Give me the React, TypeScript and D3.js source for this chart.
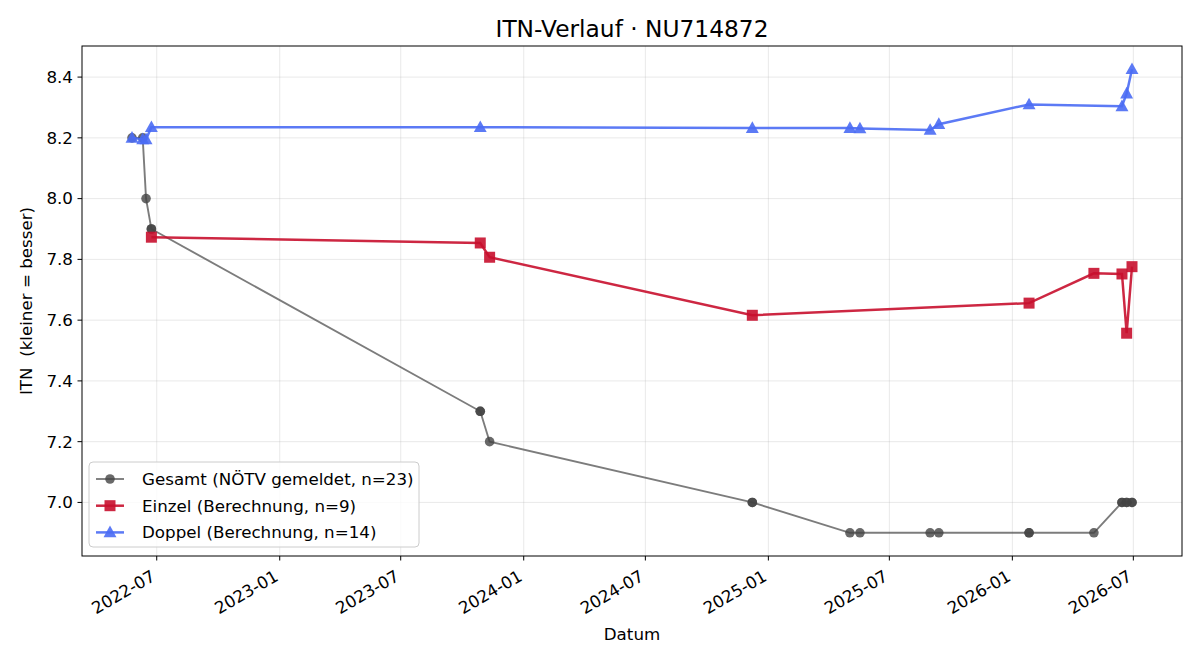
import React from "react";
import * as d3 from "d3";

const gesamtDates = ["2022-05-25","2022-06-10","2022-06-15","2022-06-23","2022-06-23","2023-10-28","2023-10-28","2023-11-11","2024-12-08","2024-12-08","2025-05-03","2025-05-18","2025-08-31","2025-09-13","2026-01-26","2026-01-26","2026-05-03","2026-06-14","2026-06-14","2026-06-21","2026-06-21","2026-06-29","2026-06-29"];
const gesamtValues = [8.2,8.2,8.0,7.9,7.9,7.3,7.3,7.2,7.0,7.0,6.9,6.9,6.9,6.9,6.9,6.9,6.9,7.0,7.0,7.0,7.0,7.0,7.0];

const einzelDates = ["2022-06-23","2023-10-28","2023-11-11","2024-12-08","2026-01-26","2026-05-03","2026-06-14","2026-06-21","2026-06-29"];
const einzelValues = [7.873,7.854,7.807,7.616,7.656,7.754,7.752,7.557,7.776];

const doppelDates = ["2022-05-25","2022-06-10","2022-06-15","2022-06-23","2023-10-28","2024-12-08","2025-05-03","2025-05-18","2025-08-31","2025-09-13","2026-01-26","2026-06-14","2026-06-21","2026-06-29"];
const doppelValues = [8.2,8.195,8.195,8.235,8.235,8.232,8.232,8.231,8.226,8.245,8.31,8.304,8.346,8.426];

const xTicks = ["2022-07","2023-01","2023-07","2024-01","2024-07","2025-01","2025-07","2026-01","2026-07"];
const yTicks = [7.0,7.2,7.4,7.6,7.8,8.0,8.2,8.4];

const legendLabels = ["Gesamt (NÖTV gemeldet, n=23)","Einzel (Berechnung, n=9)","Doppel (Berechnung, n=14)"];

const W = 1200, H = 660;
const L = 82, R = 1182, T = 46, B = 556;
const FONT = "DejaVu Sans, sans-serif";
const FS = 16.7;
const GREY = "#444444", RED = "#c8102e", BLUE = "#4a6cf4";

const parse = d3.timeParse("%Y-%m-%d");
const parseM = d3.timeParse("%Y-%m");

type P = { d: Date; v: number };
const mk = (ds: string[], vs: number[]): P[] => ds.map((s, i) => ({ d: parse(s) as Date, v: vs[i] }));

export default function App() {
  const g = mk(gesamtDates, gesamtValues);
  const e = mk(einzelDates, einzelValues);
  const dp = mk(doppelDates, doppelValues);
  const all = [...g, ...e, ...dp];
  const [dmin, dmax] = d3.extent(all, (p) => p.d.getTime()) as [number, number];
  const dpad = (dmax - dmin) * 0.05;
  const [vmin, vmax] = d3.extent(all, (p) => p.v) as [number, number];
  const vpad = (vmax - vmin) * 0.05;
  const x = d3.scaleTime().domain([new Date(dmin - dpad), new Date(dmax + dpad)]).range([L, R]);
  const y = d3.scaleLinear().domain([vmin - vpad, vmax + vpad]).range([B, T]);
  const line = d3.line<P>().x((p) => x(p.d)).y((p) => y(p.v));

  const tri = (cx: number, cy: number, s: number) =>
    `M${cx},${cy - s}L${cx + s * 0.95},${cy + s * 0.72}L${cx - s * 0.95},${cy + s * 0.72}Z`;

  const marker = (kind: number, cx: number, cy: number, key: any) => {
    if (kind === 0) return <circle key={key} cx={cx} cy={cy} r={4.8} fill={GREY} fillOpacity={0.8} />;
    if (kind === 1) return <rect key={key} x={cx - 5.5} y={cy - 5.5} width={11} height={11} fill={RED} fillOpacity={0.9} />;
    return <path key={key} d={tri(cx, cy, 6.8)} fill={BLUE} fillOpacity={0.9} />;
  };

  return (
    <svg width={W} height={H} style={{ display: "block", position: "absolute", left: 0, top: 0 }} fontFamily={FONT}>
      <rect x={0} y={0} width={W} height={H} fill="#fff" />
      {/* grid */}
      {xTicks.map((t) => {
        const xx = x(parseM(t) as Date);
        return <line key={"gx" + t} x1={xx} x2={xx} y1={T} y2={B} stroke="#b0b0b0" strokeOpacity={0.35} strokeWidth={0.8} />;
      })}
      {yTicks.map((t) => (
        <line key={"gy" + t} x1={L} x2={R} y1={y(t)} y2={y(t)} stroke="#b0b0b0" strokeOpacity={0.35} strokeWidth={0.8} />
      ))}
      {/* series */}
      <path d={line(g) || ""} fill="none" stroke={GREY} strokeOpacity={0.7} strokeWidth={1.9} />
      {g.map((p, i) => marker(0, x(p.d), y(p.v), "g" + i))}
      <path d={line(e) || ""} fill="none" stroke={RED} strokeOpacity={0.9} strokeWidth={2.5} />
      {e.map((p, i) => marker(1, x(p.d), y(p.v), "e" + i))}
      <path d={line(dp) || ""} fill="none" stroke={BLUE} strokeOpacity={0.9} strokeWidth={2.5} />
      {dp.map((p, i) => marker(2, x(p.d), y(p.v), "d" + i))}
      {/* frame */}
      <rect x={L} y={T} width={R - L} height={B - T} fill="none" stroke="#000" strokeWidth={1} />
      {/* x ticks */}
      {xTicks.map((t) => {
        const xx = x(parseM(t) as Date);
        return (
          <g key={"xt" + t}>
            <line x1={xx} x2={xx} y1={B} y2={B + 4.5} stroke="#000" strokeWidth={1} />
            <text transform={`translate(${xx - 7},${B + 12}) rotate(-30)`} textAnchor="end" dy="0.8em" fontSize={FS} fill="#000">{t}</text>
          </g>
        );
      })}
      {/* y ticks */}
      {yTicks.map((t) => (
        <g key={"yt" + t}>
          <line x1={L - 4.5} x2={L} y1={y(t)} y2={y(t)} stroke="#000" strokeWidth={1} />
          <text x={L - 9} y={y(t)} dy="0.35em" textAnchor="end" fontSize={FS} fill="#000">{d3.format(".1f")(t)}</text>
        </g>
      ))}
      {/* labels */}
      <text x={(L + R) / 2} y={37} textAnchor="middle" fontSize={23.3} fill="#000">ITN-Verlauf · NU714872</text>
      <text x={(L + R) / 2} y={640} textAnchor="middle" fontSize={FS} fill="#000">Datum</text>
      <text transform={`translate(32,${(T + B) / 2}) rotate(-90)`} textAnchor="middle" fontSize={FS} fill="#000" style={{ whiteSpace: "pre" }}>ITN  (kleiner = besser)</text>
      {/* legend */}
      <rect x={89} y={462} width={330} height={85} rx={4} fill="#fff" fillOpacity={0.8} stroke="#cccccc" strokeWidth={1} />
      {legendLabels.map((lab, i) => {
        const ly = 479 + i * 26.7;
        const col = [GREY, RED, BLUE][i];
        return (
          <g key={"lg" + i}>
            <line x1={96} x2={124} y1={ly} y2={ly} stroke={col} strokeOpacity={i === 0 ? 0.7 : 0.9} strokeWidth={i === 0 ? 1.9 : 2.5} />
            {marker(i, 110, ly, "lm" + i)}
            <text x={142} y={ly} dy="0.35em" fontSize={FS} fill="#000">{lab}</text>
          </g>
        );
      })}
    </svg>
  );
}
